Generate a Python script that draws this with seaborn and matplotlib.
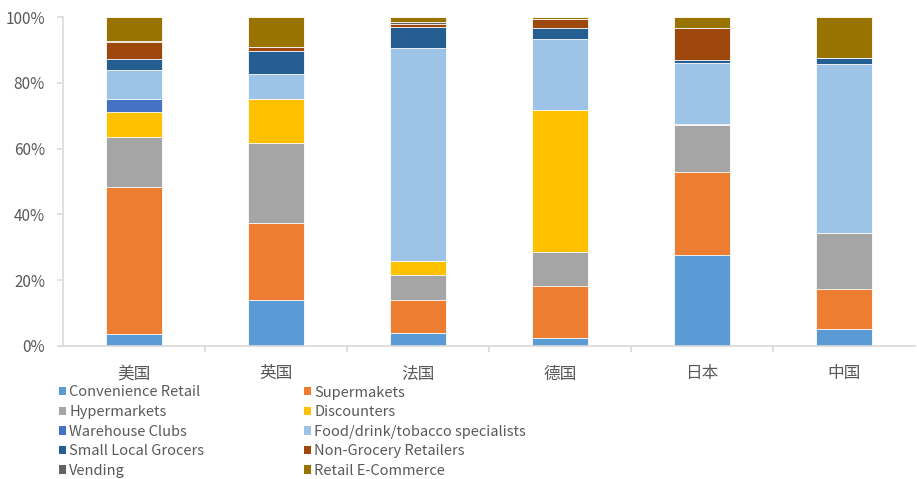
import numpy as np
import pandas as pd
import matplotlib
matplotlib.use("Agg")
import matplotlib.pyplot as plt
from matplotlib.patches import Patch
from matplotlib.ticker import FuncFormatter, FixedLocator
import seaborn as sns

countries = ["美国", "英国", "法国", "德国", "日本", "中国"]

channels = [
    "Convenience Retail", "Supermakets", "Hypermarkets", "Discounters",
    "Warehouse Clubs", "Food/drink/tobacco specialists", "Small Local Grocers",
    "Non-Grocery Retailers", "Vending", "Retail E-Commerce",
]

# channel shares (%) per country, in the order of `countries`
convenience = [3.5, 13.9, 4.0, 2.3, 27.6, 5.3]
supermarkets = [44.7, 23.4, 10.1, 15.8, 25.2, 11.9]
hypermarkets = [15.4, 24.3, 7.5, 10.4, 14.5, 17.0]
discounters = [7.5, 13.5, 4.2, 43.1, 0.0, 0.0]
warehouse = [4.0, 0.0, 0.0, 0.0, 0.3, 0.0]
food_specialists = [8.9, 7.7, 64.9, 21.7, 18.3, 51.5]
small_grocers = [3.2, 6.8, 6.4, 3.4, 1.0, 1.7]
non_grocery = [5.1, 1.4, 0.9, 2.8, 9.8, 0.0]
vending = [0.3, 0.0, 0.5, 0.0, 0.0, 0.0]
ecommerce = [7.4, 9.0, 1.5, 0.5, 3.3, 12.6]

colors = ["#5B9BD5", "#ED7D31", "#A5A5A5", "#FFC000", "#4472C4",
          "#9DC3E6", "#255E91", "#9E480E", "#636363", "#997300"]

series = [convenience, supermarkets, hypermarkets, discounters, warehouse,
          food_specialists, small_grocers, non_grocery, vending, ecommerce]

sns.set_theme(style="white")
plt.rcParams["font.family"] = ["Noto Sans CJK SC", "DejaVu Sans"]

TEXT = "#595959"
AXIS = "#D9D9D9"

fig = plt.figure(figsize=(9.17, 4.79), dpi=100)
ax = fig.add_axes([63 / 917, 1 - 346 / 479, 852 / 917, (346 - 17) / 479])

values = np.array(series, dtype=float)
cum = np.cumsum(values, axis=0) / 100.0

# stacked bars: draw cumulative totals from the top segment down
for i in reversed(range(len(channels))):
    df = pd.DataFrame({"country": countries, "share": cum[i]})
    sns.barplot(data=df, x="country", y="share", color=colors[i],
                saturation=1, width=0.4, edgecolor="white", linewidth=0.6,
                ax=ax, order=countries)

ax.set_xlim(-0.5, len(countries) - 0.5)
ax.set_ylim(0, 1)
ax.yaxis.set_major_locator(FixedLocator(np.linspace(0, 1, 6)))
ax.yaxis.set_major_formatter(FuncFormatter(lambda v, _: f"{v * 100:.0f}%"))
ax.set_xlabel("")
ax.set_ylabel("")

for s in ["top", "right"]:
    ax.spines[s].set_visible(False)
for s in ["bottom", "left"]:
    ax.spines[s].set_color(AXIS)
    ax.spines[s].set_linewidth(1.2)

ax.set_xticks(range(len(countries)))
ax.set_xticklabels(countries)
ax.set_xticks(np.arange(0.5, len(countries) - 0.5, 1.0), minor=True)
ax.tick_params(axis="x", which="major", length=0, pad=14, labelsize=12,
               labelcolor=TEXT)
ax.tick_params(axis="x", which="minor", length=4, width=1.2, color=AXIS,
               direction="out", bottom=True)
ax.tick_params(axis="y", which="major", length=4, width=1.2, color=AXIS,
               direction="out", left=True, pad=9, labelsize=11,
               labelcolor=TEXT)

# legend: two columns, filled row by row
col_x = [59 / 917, 304 / 917]
for c in range(2):
    idx = list(range(c, len(channels), 2))
    handles = [Patch(facecolor=colors[i], edgecolor="none") for i in idx]
    labels = [channels[i] for i in idx]
    fig.legend(handles, labels, ncol=1, loc="upper left",
               bbox_to_anchor=(col_x[c], 1 - 385.5 / 479), frameon=False,
               fontsize=10.5, labelcolor=TEXT, handlelength=0.5,
               handleheight=0.5, handletextpad=0.2, labelspacing=0.38,
               borderpad=0, borderaxespad=0)

fig.savefig("out.png", dpi=100)
